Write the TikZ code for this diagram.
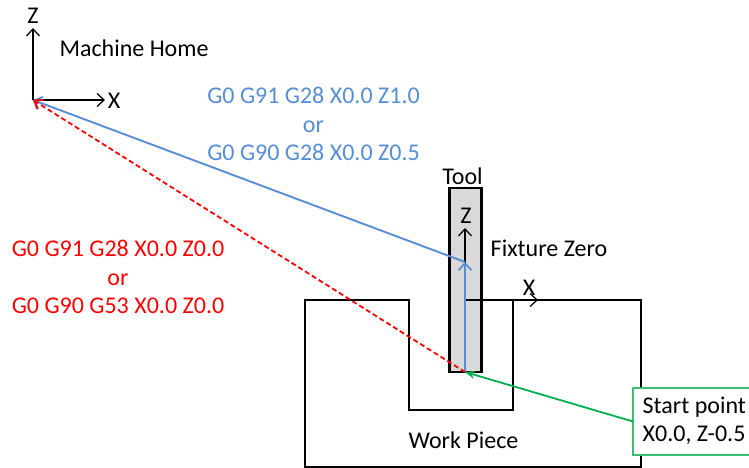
\documentclass[tikz,border=0pt]{standalone}
\usepackage{fontspec}
\setmainfont{Carlito}
\usetikzlibrary{arrows.meta}
\definecolor{bluepath}{RGB}{85,142,213}
\definecolor{greenpath}{RGB}{0,176,80}
\definecolor{toolfill}{RGB}{217,217,217}
\definecolor{boxgreen}{RGB}{60,190,120}
\tikzset{
  x=1pt,y=-1pt,
  axis/.style={draw=black,line width=1.25pt,-{Straight Barb[length=7pt,width=13pt,line width=1.25pt]}},
  bluearrow/.style={draw=bluepath,line width=1.9pt},
  bluetip/.style={-{Straight Barb[length=7pt,width=13pt,line width=1.7pt]}},
  redarrow/.style={draw=red,line width=1.8pt,dash pattern=on 5pt off 3pt,-{Straight Barb[length=7pt,width=11pt,line width=1.8pt,color=red]}},
  greenarrow/.style={draw=greenpath,line width=1.8pt,-{Stealth[length=10pt,width=8pt]}},
  lbl/.style={inner sep=0pt,font=\fontsize{24}{28.5}\selectfont,text=black},
  bluelbl/.style={lbl,text=bluepath,align=center},
  redlbl/.style={lbl,text=red,align=center},
}
\begin{document}
\begin{tikzpicture}
\useasboundingbox (0,0) rectangle (749,468);
\coordinate (home) at (33,100);
\coordinate (homez) at (33,28);
\coordinate (homex) at (105,100);
\coordinate (fix) at (465,300);
\coordinate (fixz) at (465,228);
\coordinate (fixx) at (538,300);
\coordinate (bend) at (465,262);
\coordinate (start) at (465,372);
% work piece
\draw[line width=1.8pt,line join=miter] (305,300) -- (409,300) -- (409,410) -- (513,410) -- (513,300) -- (641,300) -- (641,467) -- (305,467) -- cycle;
% tool
\node[draw=black,fill=toolfill,line width=2.6pt,minimum width=32pt,minimum height=184pt,inner sep=0pt,outer sep=0pt] (tool) at (465.5,280) {};
\draw[axis] (home) -- (homez);
\draw[axis] (home) -- (homex);
\draw[axis] (fix) -- (fixz);
\draw[axis] (fix) -- (fixx);
\draw[bluearrow,bluetip] (start) -- (bend);
\draw[bluearrow,bluetip] (bend) -- (home);
\draw[redarrow] (start) -- (home);
\node[draw=boxgreen,line width=1.8pt,fill=white,minimum width=120pt,minimum height=67pt,inner sep=0pt,outer sep=0pt] (box) at (693,421.5) {};
\draw[greenarrow] (box.west) -- (start);
\node[lbl] (zh) at (33,16) {Z};
\node[lbl] (xh) at (114,101) {X};
\node[lbl] (mh) at (134,48) {Machine Home};
\node[bluelbl] (blue) at (313.5,124) {G0 G91 G28 X0.0 Z1.0\\or\\G0 G90 G28 X0.0 Z0.5};
\node[redlbl] (redt) at (118,277) {G0 G91 G28 X0.0 Z0.0\\or\\G0 G90 G53 X0.0 Z0.0};
\node[lbl] (tl) at (462.5,176) {Tool};
\node[lbl] (zf) at (466,216) {Z};
\node[lbl] (ff) at (549,248) {Fixture Zero};
\node[lbl] (xf) at (529,288) {X};
\node[lbl] (wp) at (463.5,440) {Work Piece};
\node[lbl,align=left,anchor=west] (st) at (642.5,421) {Start point\\X0.0, Z-0.5};
\end{tikzpicture}
\end{document}
